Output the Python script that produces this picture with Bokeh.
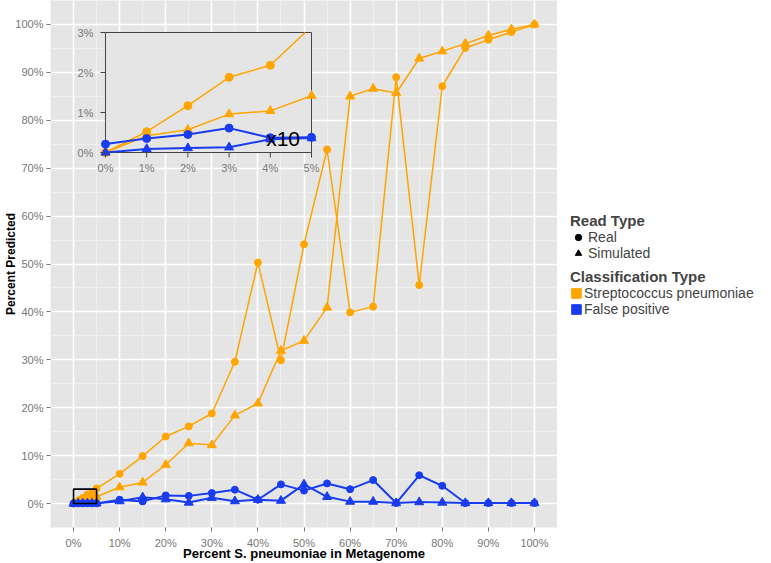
from bokeh.plotting import figure
from bokeh.models import (Range1d, FixedTicker, PrintfTickFormatter, BoxAnnotation, Label,
                          Legend, LegendItem, ColumnDataSource)
from bokeh.layouts import row
from bokeh.embed import file_html
from bokeh.resources import INLINE

# ---------------- data ----------------
pct = [0, 1, 2, 3, 4, 5, 10, 15, 20, 25, 30, 35, 40, 45, 50, 55, 60, 65, 70, 75, 80, 85, 90, 95, 100]
real_sp = [0, 0.52, 1.17, 1.88, 2.18, 3.15, 6.2, 9.9, 14.0, 16.1, 18.8, 29.6, 50.3, 29.9, 54.1,
           73.9, 39.9, 41.1, 89.0, 45.6, 87.1, 95.1, 96.8, 98.4, 100]
sim_sp = [0, 0.42, 0.57, 0.96, 1.04, 1.42, 3.4, 4.4, 8.1, 12.6, 12.2, 18.4, 20.9, 31.9, 34.0,
          40.9, 85.0, 86.6, 85.7, 92.9, 94.4, 96.0, 97.7, 99.0, 100]
real_fp = [0.021, 0.035, 0.045, 0.061, 0.037, 0.038, 0.8, 0.45, 1.7, 1.6, 2.2, 2.9, 0.8, 4.0, 2.7,
           4.2, 3.0, 4.9, 0.1, 5.9, 3.7, 0.1, 0.1, 0.1, 0.1]
sim_fp = [0, 0.009, 0.011, 0.013, 0.033, 0.036, 0.5, 1.3, 0.9, 0.2, 1.2, 0.5, 0.8, 0.6, 4.0,
          1.4, 0.4, 0.4, 0.1, 0.3, 0.2, 0.1, 0.1, 0.1, 0.1]
main_ticks = [0, 10, 20, 30, 40, 50, 60, 70, 80, 90, 100]
main_minor = [5, 15, 25, 35, 45, 55, 65, 75, 85, 95]
inset_x_ticks = [0, 1, 2, 3, 4, 5]
inset_y_ticks = [0, 1, 2, 3]
fp_scale = 10
inset_note = "x10"
read_types = ["Real", "Simulated"]
class_types = ["Streptococcus pneumoniae", "False positive"]

# ---------------- style / layout ----------------
FONT = "Liberation Sans"
ORANGE = "#FFA500"
BLUE = "#1A3CF0"
PANEL = "#E5E5E5"
TICKCOL = "#777777"
INK = "#444444"

W_MAIN, W_SIDE, H = 557, 214, 563
X0, X1 = -5, 105
Y0, Y1 = -5, 105
PXX = (557 - 50) / (X1 - X0)   # px per main x unit
PXY = 527 / (Y1 - Y0)          # px per main y unit
# inset box expressed in main data coordinates
IX0, IX1, IY0, IY1 = 6.93, 51.63, 73.27, 98.32
IXN, IYN = inset_x_ticks[-1], inset_y_ticks[-1]
sx = (IX1 - IX0) / IXN
sy = (IY1 - IY0) / IYN


def clip_polyline(xs, ys, x0, x1, y0, y1):
    out_x, out_y, cx, cy = [], [], [], []
    for i in range(len(xs) - 1):
        ax, ay, bx, by = xs[i], ys[i], xs[i + 1], ys[i + 1]
        dx, dy = bx - ax, by - ay
        t0, t1, ok = 0.0, 1.0, True
        for pp, q in ((-dx, ax - x0), (dx, x1 - ax), (-dy, ay - y0), (dy, y1 - ay)):
            if pp == 0:
                if q < 0:
                    ok = False
                    break
            else:
                t = q / pp
                if pp < 0:
                    if t > t1:
                        ok = False
                        break
                    t0 = max(t0, t)
                else:
                    if t < t0:
                        ok = False
                        break
                    t1 = min(t1, t)
        if not ok:
            if cx:
                out_x.append(cx); out_y.append(cy); cx, cy = [], []
            continue
        s = (ax + t0 * dx, ay + t0 * dy)
        e = (ax + t1 * dx, ay + t1 * dy)
        if not cx or (cx[-1], cy[-1]) != s:
            if cx:
                out_x.append(cx); out_y.append(cy)
            cx, cy = [s[0]], [s[1]]
        cx.append(e[0]); cy.append(e[1])
        if t1 < 1:
            out_x.append(cx); out_y.append(cy); cx, cy = [], []
    if cx:
        out_x.append(cx); out_y.append(cy)
    return out_x, out_y


p = figure(width=W_MAIN, height=H, x_range=Range1d(X0, X1), y_range=Range1d(Y0, Y1),
           output_backend="svg", toolbar_location=None,
           min_border_left=50, min_border_right=0, min_border_top=0, min_border_bottom=36)
p.background_fill_color = PANEL
p.border_fill_color = "white"
p.outline_line_color = None

for ax in (p.xaxis[0], p.yaxis[0]):
    ax.ticker = FixedTicker(ticks=main_ticks, minor_ticks=main_minor)
    ax.formatter = PrintfTickFormatter(format="%d%%")
    ax.axis_line_color = None
    ax.major_tick_line_color = TICKCOL
    ax.major_tick_out = 4
    ax.major_tick_in = 0
    ax.minor_tick_line_color = None
    ax.major_label_text_font = FONT
    ax.major_label_text_font_size = "11px"
    ax.major_label_text_color = TICKCOL
    ax.axis_label_text_font = FONT
    ax.axis_label_text_font_style = "bold"
    ax.axis_label_text_color = "black"
p.xaxis.major_label_standoff = 5
p.xaxis.axis_label_standoff = -6
p.yaxis.major_label_standoff = 3
p.yaxis.axis_label_standoff = -6
p.xaxis.axis_label = "Percent S. pneumoniae in Metagenome"
p.xaxis.axis_label_text_font_size = "13px"
p.yaxis.axis_label = "Percent Predicted"
p.yaxis.axis_label_text_font_size = "12px"

for g in (p.xgrid[0], p.ygrid[0]):
    g.grid_line_color = "white"
    g.grid_line_width = 1.6
    g.minor_grid_line_color = "#F3F3F3"
    g.minor_grid_line_width = 0.7

src = ColumnDataSource(dict(pct=pct, real_sp=real_sp, sim_sp=sim_sp, real_fp=real_fp, sim_fp=sim_fp))

for col, colr, lw in (("real_sp", ORANGE, 1.5), ("sim_sp", ORANGE, 1.5), ("real_fp", BLUE, 2), ("sim_fp", BLUE, 2)):
    p.line("pct", col, source=src, line_color=colr, line_width=lw)
    if col.startswith("real"):
        p.scatter("pct", col, source=src, marker="circle", size=7, color=colr)
    else:
        p.scatter("pct", col, source=src, marker="triangle", size=9, color=colr)

# zoom rectangle in the main panel
p.add_layout(BoxAnnotation(left=0, right=IXN, bottom=0, top=IYN, fill_color=None, fill_alpha=0,
                           line_color="black", line_width=1.6, line_alpha=1))

# ---------------- inset ----------------
p.extra_x_ranges = {"ix": Range1d((X0 - IX0) / sx, (X1 - IX0) / sx)}
p.extra_y_ranges = {"iy": Range1d((Y0 - IY0) / sy, (Y1 - IY0) / sy)}
p.add_layout(BoxAnnotation(left=0, right=IXN, bottom=0, top=IYN, x_range_name="ix", y_range_name="iy",
                           fill_color=PANEL, fill_alpha=1, line_color=INK, line_width=1,
                           line_alpha=1, level="underlay"))

n_in = len(inset_x_ticks)
ins_x = pct[:n_in]
inset_series = [
    (real_sp[:n_in], ORANGE, "circle", 1.5),
    (sim_sp[:n_in], ORANGE, "triangle", 1.5),
    ([v * fp_scale for v in real_fp[:n_in]], BLUE, "circle", 2),
    ([v * fp_scale for v in sim_fp[:n_in]], BLUE, "triangle", 2),
]
for ys, colr, mk, lw in inset_series:
    mx, my = clip_polyline(ins_x, ys, 0, IXN, 0, IYN)
    p.multi_line(mx, my, line_color=colr, line_width=lw, x_range_name="ix", y_range_name="iy")
    keep = [i for i in range(n_in) if 0 <= ys[i] <= IYN]
    p.scatter([ins_x[i] for i in keep], [ys[i] for i in keep], marker=mk,
              size=8 if mk == "circle" else 9, color=colr, x_range_name="ix", y_range_name="iy")

TICK_PX = 5
tick_len_x = TICK_PX / (PXX * sx)
tick_len_y = TICK_PX / (PXY * sy)
p.segment(x0=[-tick_len_x] * len(inset_y_ticks), x1=[0] * len(inset_y_ticks),
          y0=inset_y_ticks, y1=inset_y_ticks, line_color=INK, line_width=1,
          x_range_name="ix", y_range_name="iy")
p.segment(x0=inset_x_ticks, x1=inset_x_ticks, y0=[-tick_len_y] * n_in, y1=[0] * n_in,
          line_color=INK, line_width=1, x_range_name="ix", y_range_name="iy")

for v in inset_x_ticks:
    p.add_layout(Label(x=v, y=0, x_range_name="ix", y_range_name="iy", text=f"{v}%",
                       text_align="center", text_baseline="top", y_offset=-9,
                       text_font=FONT, text_font_size="11px", text_color=TICKCOL))
for v in inset_y_ticks:
    p.add_layout(Label(x=0, y=v, x_range_name="ix", y_range_name="iy", text=f"{v}%",
                       text_align="right", text_baseline="middle", x_offset=-12,
                       text_font=FONT, text_font_size="11px", text_color=TICKCOL))
p.add_layout(Label(x=3.9, y=0.36, x_range_name="ix", y_range_name="iy", text=inset_note,
                   text_align="left", text_baseline="middle",
                   text_font=FONT, text_font_size="21px", text_color="black"))

# ---------------- legend panel ----------------
side = figure(width=W_SIDE, height=H, x_range=Range1d(0, 1), y_range=Range1d(0, 1),
              x_axis_type=None, y_axis_type=None, output_backend="svg", toolbar_location=None,
              min_border=0, outline_line_color=None)
side.background_fill_color = "white"
side.border_fill_color = "white"
nan = float("nan")
r_real = side.scatter(x=[nan], y=[nan], marker="circle", color="black")
r_sim = side.scatter(x=[nan], y=[nan], marker="triangle", color="black")
r_sp = side.quad(left=[nan], right=[nan], bottom=[nan], top=[nan], color=ORANGE)
r_fp = side.quad(left=[nan], right=[nan], bottom=[nan], top=[nan], color=BLUE)


def make_legend(title, labels, rends, loc, glyph):
    lg = Legend(items=[LegendItem(label=l, renderers=[r]) for l, r in zip(labels, rends)],
                title=title, location=loc)
    lg.border_line_color = None
    lg.background_fill_alpha = 0
    lg.padding = 0
    lg.margin = 0
    lg.spacing = 0
    lg.glyph_width = glyph
    lg.glyph_height = glyph
    lg.label_height = 14
    lg.label_standoff = 2
    lg.label_text_font = FONT
    lg.label_text_font_size = "14px"
    lg.title_text_font = FONT
    lg.title_text_font_style = "bold"
    lg.title_text_font_size = "15px"
    lg.title_standoff = 0
    return lg


side.add_layout(make_legend("Read Type", read_types, [r_real, r_sim], (13, 266), 16))
side.add_layout(make_legend("Classification Type", class_types, [r_sp, r_fp], (13, 210), 12))

layout = row(p, side)
open("out.html", "w").write(file_html(layout, INLINE))
